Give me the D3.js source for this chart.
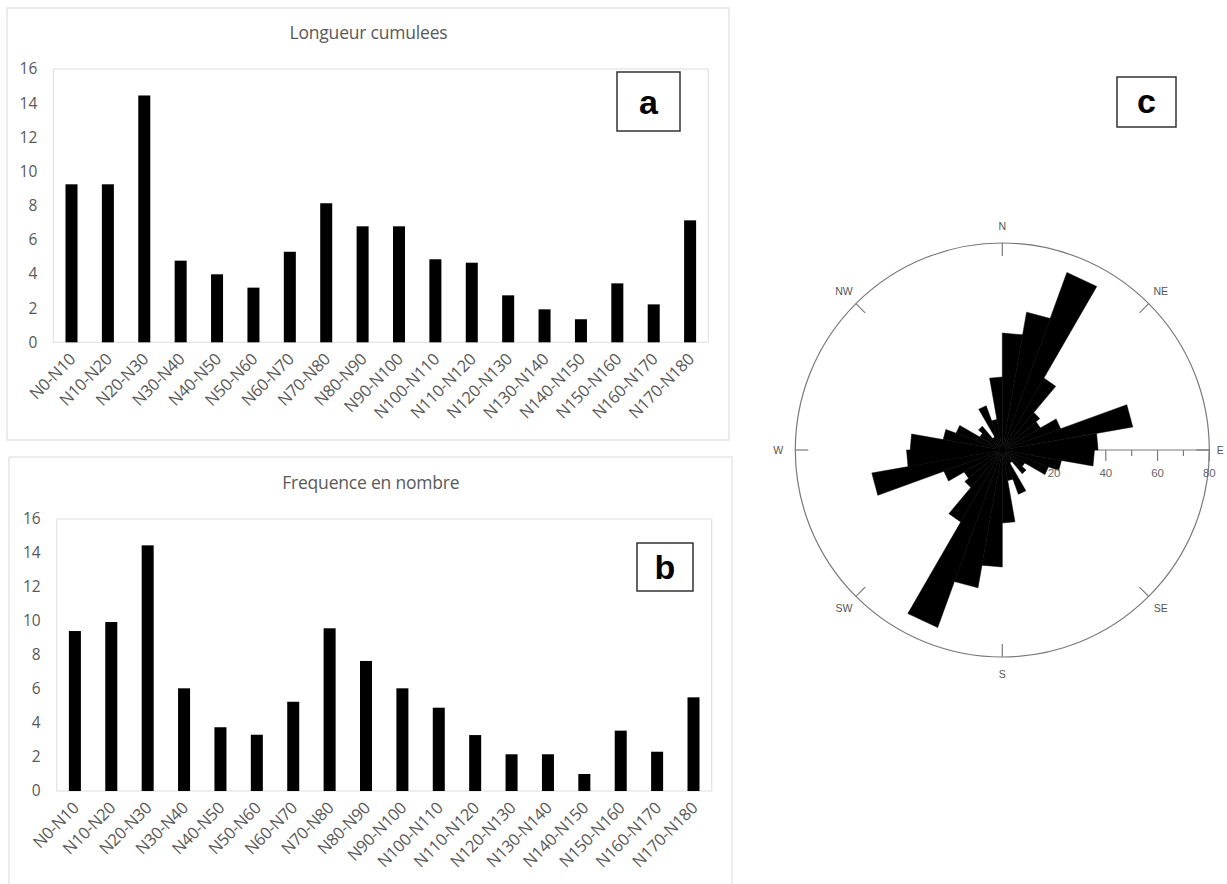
<!DOCTYPE html>
<html>
<head>
<meta charset="utf-8">
<script src="https://cdn.jsdelivr.net/npm/d3@7"></script>
<style>
  body { margin: 0; background: #fff; }
  svg { display: block; }
  .tick text { font-family: "Open Sans", sans-serif; fill: #595959; }
</style>
</head>
<body>
<div id="chart"></div>
<script>
// data
const categories = ["N0-N10", "N10-N20", "N20-N30", "N30-N40", "N40-N50", "N50-N60",
  "N60-N70", "N70-N80", "N80-N90", "N90-N100", "N100-N110", "N110-N120",
  "N120-N130", "N130-N140", "N140-N150", "N150-N160", "N160-N170", "N170-N180"];
const lengthValues = [9.25, 9.25, 14.45, 4.78, 3.98, 3.2, 5.3, 8.14, 6.79, 6.79,
  4.86, 4.66, 2.75, 1.93, 1.35, 3.45, 2.22, 7.14];
const countValues = [9.41, 9.94, 14.45, 6.04, 3.75, 3.31, 5.25, 9.57, 7.65, 6.04,
  4.9, 3.29, 2.16, 2.16, 1.0, 3.55, 2.31, 5.51];
const yTicks = [0, 2, 4, 6, 8, 10, 12, 14, 16];

// rose: start azimuth of each 10 degree bin (mirrored on the other side)
const roseBins = [0, 10, 20, 30, 40, 50, 60, 70, 80, 90, 100, 110, 120, 130, 140, 150, 160, 170];
const roseValues = [45.2, 54.1, 73.0, 32.1, 18.9, 17.0, 24.0, 51.2, 37.0, 35.6,
  23.2, 19.0, 10.0, 12.0, 5.8, 18.2, 12.0, 28.2];
const roseTicks = [10, 20, 30, 40, 50, 60, 70, 80];
const roseTickLabels = [20, 40, 60, 80];
const compassNames = ["N", "NE", "E", "SE", "S", "SW", "W", "NW"];

let width = 1227;
let height = 884;

let svg = d3.select("#chart")
  .append("svg")
  .attr("width", width)
  .attr("height", height);

// one excel-like bar chart
function barChart(opts, values) {
  let g = svg.append("g");

  // outer frame
  g.append("rect")
    .attr("x", opts.box[0]).attr("y", opts.box[1])
    .attr("width", opts.box[2]).attr("height", opts.box[3])
    .attr("fill", "#fff").attr("stroke", "#d9d9d9");

  // plot area frame
  g.append("rect")
    .attr("x", opts.x0).attr("y", opts.y0)
    .attr("width", opts.x1 - opts.x0).attr("height", opts.y1 - opts.y0)
    .attr("fill", "none").attr("stroke", "#e3e3e3").attr("stroke-width", 1.2);

  let x = d3.scaleBand()
    .domain(categories)
    .range([opts.x0, opts.x1])
    .paddingInner(0.67)
    .paddingOuter(0.335);
  let y = d3.scaleLinear()
    .domain([0, 16])
    .range([opts.y1, opts.y0]);

  // title
  g.append("text")
    .attr("x", opts.titleX).attr("y", opts.titleY)
    .attr("text-anchor", "middle")
    .attr("font-family", "Open Sans, sans-serif")
    .attr("font-size", 17.5)
    .attr("letter-spacing", -0.2)
    .attr("fill", "#595959")
    .text(opts.title);

  // y axis
  let yAxis = g.append("g")
    .attr("transform", "translate(" + opts.x0 + ",0)")
    .call(d3.axisLeft(y).tickValues(yTicks).tickSize(0).tickPadding(16));
  yAxis.select(".domain").remove();
  yAxis.selectAll("text").attr("font-size", 15.5);

  // x axis with slanted labels
  let xAxis = g.append("g")
    .attr("transform", "translate(0," + opts.y1 + ")")
    .call(d3.axisBottom(x).tickSize(0));
  xAxis.select(".domain").remove();
  xAxis.selectAll("text")
    .attr("x", 0).attr("y", 0).attr("dy", "0.35em")
    .attr("transform", "translate(1,14) rotate(-45)")
    .attr("text-anchor", "end")
    .attr("letter-spacing", -0.3)
    .attr("font-size", 16.5);

  // bars
  g.selectAll(".bar")
    .data(values)
    .enter()
    .append("rect")
    .attr("class", "bar")
    .attr("x", function(d, i) { return x(categories[i]); })
    .attr("width", x.bandwidth())
    .attr("y", function(d) { return y(d); })
    .attr("height", function(d) { return opts.y1 - y(d); })
    .attr("fill", "#000");

  // letter box
  g.append("rect")
    .attr("x", opts.tag[0]).attr("y", opts.tag[1])
    .attr("width", opts.tag[2]).attr("height", opts.tag[3])
    .attr("fill", "#fff").attr("stroke", "#333").attr("stroke-width", 1.5);
  g.append("text")
    .attr("x", opts.tag[0] + opts.tag[2] / 2)
    .attr("y", opts.tag[1] + opts.tag[3] / 2 + 12)
    .attr("text-anchor", "middle")
    .attr("font-family", "Liberation Sans, Arial, sans-serif")
    .attr("font-weight", "bold")
    .attr("font-size", 34)
    .attr("fill", "#000")
    .text(opts.letter);
}

barChart({
  box: [7, 8, 722, 432],
  x0: 53.3, x1: 708.3, y0: 69, y1: 342.3,
  title: "Longueur cumulees", titleX: 368.5, titleY: 39,
  tag: [617, 72, 63, 59], letter: "a"
}, lengthValues);

barChart({
  box: [9, 457, 723, 440],
  x0: 56.7, x1: 711.7, y0: 519, y1: 791,
  title: "Frequence en nombre", titleX: 370.8, titleY: 488.5,
  tag: [637, 543, 56, 48], letter: "b"
}, countValues);

// Rose diagram (c)
let cx = 1002.3;
let cy = 450;
let outerR = 207;
let r = d3.scaleLinear().domain([0, 80]).range([0, outerR]);
let rose = svg.append("g").attr("transform", "translate(" + cx + "," + cy + ")");

rose.append("circle")
  .attr("r", outerR)
  .attr("fill", "none")
  .attr("stroke", "#7a7a7a")
  .attr("stroke-width", 1.2);

// compass ticks and names
compassNames.forEach(function(name, i) {
  let a = i * Math.PI / 4;
  let sx = Math.sin(a), sy = -Math.cos(a);
  rose.append("line")
    .attr("x1", sx * (outerR - 13)).attr("y1", sy * (outerR - 13))
    .attr("x2", sx * outerR).attr("y2", sy * outerR)
    .attr("stroke", "#7a7a7a").attr("stroke-width", 1.2);
  // E sits at the page edge: keep it inside
  let lx = name === "E" ? 218 : 224;
  rose.append("text")
    .attr("x", sx * lx).attr("y", sy * 224)
    .attr("dy", "0.35em")
    .attr("text-anchor", "middle")
    .attr("font-family", "Liberation Sans, Arial, sans-serif")
    .attr("font-size", 10.5)
    .attr("fill", "#555")
    .text(name);
});

// radial axis toward E
rose.append("line")
  .attr("x1", 0).attr("y1", 0)
  .attr("x2", r(80)).attr("y2", 0)
  .attr("stroke", "#7a7a7a").attr("stroke-width", 1.2);
rose.selectAll(".rtick")
  .data(roseTicks)
  .enter()
  .append("line")
  .attr("class", "rtick")
  .attr("x1", function(d) { return r(d); })
  .attr("x2", function(d) { return r(d); })
  .attr("y1", 0)
  .attr("y2", function(d) { return d % 20 === 0 ? 11 : 6; })
  .attr("stroke", "#7a7a7a").attr("stroke-width", 1.2);

// petals, each bin drawn twice (bidirectional)
let petal = d3.lineRadial()
  .angle(function(d) { return d[0]; })
  .radius(function(d) { return d[1]; })
  .curve(d3.curveLinearClosed);

let petals = [];
roseBins.forEach(function(b, i) {
  [0, 180].forEach(function(off) {
    let a0 = (b + off) * Math.PI / 180;
    let a1 = (b + off + 10) * Math.PI / 180;
    petals.push([[0, 0], [a0, r(roseValues[i])], [a1, r(roseValues[i])]]);
  });
});

rose.selectAll(".petal")
  .data(petals)
  .enter()
  .append("path")
  .attr("class", "petal")
  .attr("d", petal)
  .attr("fill", "#000")
  .attr("stroke", "#000")
  .attr("stroke-width", 0.5);

rose.selectAll(".rlabel")
  .data(roseTickLabels)
  .enter()
  .append("text")
  .attr("class", "rlabel")
  .attr("x", function(d) { return r(d); })
  .attr("y", 27)
  .attr("text-anchor", "middle")
  .attr("font-family", "Liberation Sans, Arial, sans-serif")
  .attr("font-size", 11.5)
  .attr("fill", "#666")
  .text(function(d) { return d; });

// letter box c
svg.append("rect")
  .attr("x", 1117).attr("y", 77)
  .attr("width", 59).attr("height", 50)
  .attr("fill", "#fff").attr("stroke", "#333").attr("stroke-width", 1.5);
svg.append("text")
  .attr("x", 1146.5).attr("y", 113)
  .attr("text-anchor", "middle")
  .attr("font-family", "Liberation Sans, Arial, sans-serif")
  .attr("font-weight", "bold")
  .attr("font-size", 34)
  .attr("fill", "#000")
  .text("c");
</script>
</body>
</html>
